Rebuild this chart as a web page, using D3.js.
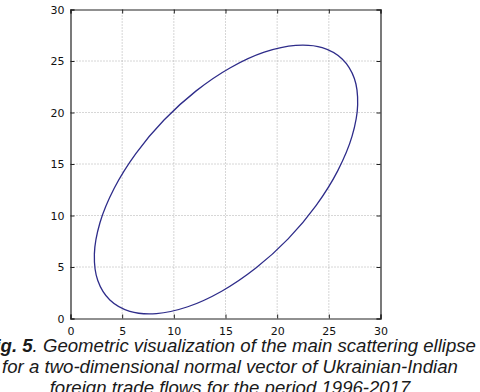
<!DOCTYPE html>
<html>
<head>
<meta charset="utf-8">
<script src="https://cdn.jsdelivr.net/npm/d3@7"></script>
<style>
  body { margin: 0; background: #fff; }
  svg { display: block; }
</style>
</head>
<body>
<script>
// ellipse outline, points (x, y)
const ellipseX = [26.29, 24.36, 21.79, 18.75, 15.47, 12.16, 9.05, 6.34, 4.23, 2.85, 2.31, 2.64, 3.81, 5.74, 8.32, 11.35, 14.63, 17.94, 21.06, 23.76, 25.87, 27.25, 27.79, 27.47];
const ellipseY = [25.20, 26.30, 26.52, 25.86, 24.35, 22.10, 19.27, 16.04, 12.65, 9.30, 6.25, 3.69, 1.80, 0.70, 0.48, 1.14, 2.65, 4.90, 7.73, 10.96, 14.36, 17.70, 20.75, 23.31];
const xTicks = [0, 5, 10, 15, 20, 25, 30];
const yTicks = [0, 5, 10, 15, 20, 25, 30];
const captionLines = [
  [{t: "Fig. 5", b: true}, {t: ". Geometric visualization of the main scattering ellipse", b: false}],
  [{t: "for a two-dimensional normal vector of Ukrainian-Indian", b: false}],
  [{t: "foreign trade flows for the period 1996-2017", b: false}]
];

function main(){
    const width = 480;
    const height = 392;

    const svg = d3.select("body").append("svg")
        .attr("width", width)
        .attr("height", height);

    const left = 70.5, right = 380.5, top = 9.5, bottom = 318.5;

    const x = d3.scaleLinear().domain([0, 30]).range([left, right]);
    const y = d3.scaleLinear().domain([0, 30]).range([bottom, top]);

    // grid
    svg.append("g").selectAll("line")
        .data(xTicks.slice(1, -1))
        .enter().append("line")
        .attr("x1", d => x(d)).attr("x2", d => x(d))
        .attr("y1", top).attr("y2", bottom)
        .attr("stroke", "#999").attr("stroke-width", 0.8)
        .attr("stroke-dasharray", "1,2");
    svg.append("g").selectAll("line")
        .data(yTicks.slice(1, -1))
        .enter().append("line")
        .attr("y1", d => y(d)).attr("y2", d => y(d))
        .attr("x1", left).attr("x2", right)
        .attr("stroke", "#999").attr("stroke-width", 0.8)
        .attr("stroke-dasharray", "1,2");

    // axes with inward ticks
    svg.append("g")
        .attr("transform", `translate(0,${bottom})`)
        .call(d3.axisBottom(x).tickValues(xTicks).tickSize(-4).tickPadding(9));
    svg.append("g")
        .attr("transform", `translate(${left},0)`)
        .call(d3.axisLeft(y).tickValues(yTicks).tickSize(-4).tickPadding(6));
    svg.append("g")
        .attr("transform", `translate(0,${top})`)
        .call(d3.axisTop(x).tickValues(xTicks).tickSize(-4).tickFormat(""));
    svg.append("g")
        .attr("transform", `translate(${right},0)`)
        .call(d3.axisRight(y).tickValues(yTicks).tickSize(-4).tickFormat(""));

    svg.selectAll(".domain").attr("stroke", "#222").attr("stroke-width", 1.2);
    svg.selectAll(".tick line").attr("stroke", "#222");
    svg.selectAll(".tick text")
        .style("font-family", "'DejaVu Sans', sans-serif")
        .style("font-size", "11px")
        .attr("fill", "#111");

    // ellipse
    const pts = ellipseX.map((d, i) => [d, ellipseY[i]]);
    const line = d3.line()
        .x(d => x(d[0]))
        .y(d => y(d[1]))
        .curve(d3.curveCatmullRomClosed);
    svg.append("path")
        .attr("d", line(pts))
        .attr("fill", "none")
        .attr("stroke", "#2e2c8a")
        .attr("stroke-width", 1.3);

    // caption
    const cap = svg.append("g")
        .style("font-family", "'Liberation Sans', Arial, sans-serif")
        .style("font-style", "italic")
        .style("font-size", "18.6px")
        .attr("fill", "#1a1a1a");
    captionLines.forEach(function(parts, i){
        const t = cap.append("text")
            .attr("x", 230)
            .attr("y", 352 + i * 21)
            .attr("text-anchor", "middle");
        parts.forEach(function(p){
            t.append("tspan")
                .style("font-weight", p.b ? "bold" : "normal")
                .text(p.t);
        });
    });
}
main();
</script>
</body>
</html>
